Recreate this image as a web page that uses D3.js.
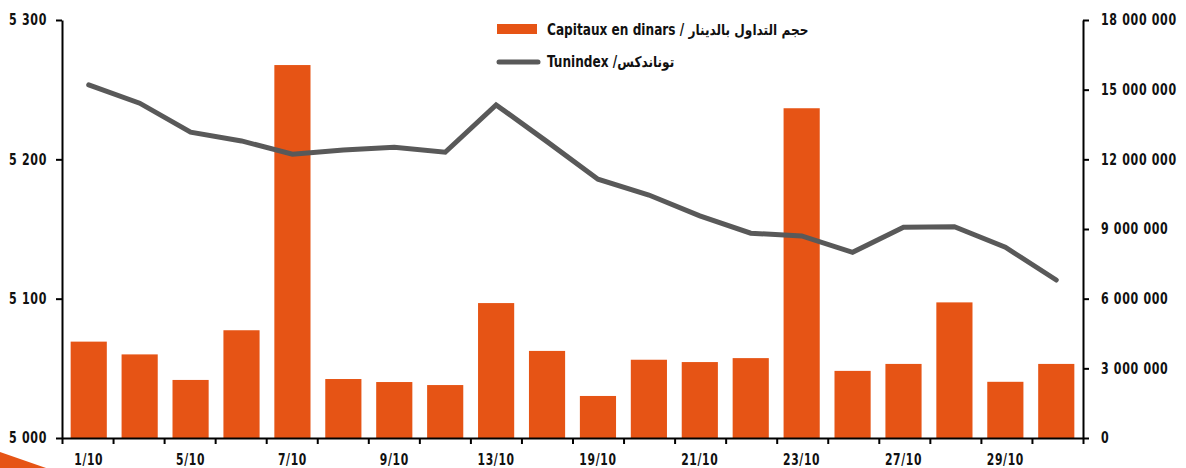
<!doctype html>
<html lang="fr">
  <head>
    <meta charset="utf-8">
    <title>Capitaux et Tunindex - octobre</title>
    <style>
      body {
        margin: 0;
        background: #fff;
      }
      svg text {
        font-family: 'DejaVu Sans Condensed', 'DejaVu Sans', sans-serif;
        font-weight: bold;
        fill: #111;
      }
      .axis path, .axis line {
        stroke: #000;
        stroke-width: 2;
      }
    </style>
  </head>
  <body>
    <div id="chart"></div>

    <script src="https://d3js.org/d3.v7.min.js"></script>
    <script>
      // seances d'octobre
      const days = ['1/10', '2/10', '5/10', '6/10', '7/10', '8/10', '9/10', '12/10', '13/10', '14/10',
                    '19/10', '20/10', '21/10', '22/10', '23/10', '26/10', '27/10', '28/10', '29/10', '30/10']
      // capitaux en dinars (axe droit)
      const capitaux = [4150000, 3600000, 2500000, 4640000, 16060000, 2540000, 2410000, 2280000, 5810000, 3750000,
                        1810000, 3370000, 3270000, 3440000, 14200000, 2890000, 3190000, 5840000, 2420000, 3190000]
      // Tunindex (axe gauche)
      const tunindex = [5253.4, 5240.3, 5219.5, 5213.2, 5203.7, 5206.7, 5208.7, 5205.1, 5239.1, 5212.7,
                        5185.7, 5174.4, 5159.4, 5147.0, 5145.0, 5133.3, 5151.3, 5151.7, 5136.9, 5113.4]
      const leftTicks = [5000, 5100, 5200, 5300]
      const rightTicks = [0, 3000000, 6000000, 9000000, 12000000, 15000000, 18000000]
      const legendLabels = ['Capitaux en dinars / حجم التداول بالدينار', 'Tunindex /توناندكس']

      const width = 1186
      const height = 468
      const m = { left: 62, right: 1083, top: 20, bottom: 438 }
      const orange = '#e65415'
      const grey = '#595959'

      const spaced = d => d3.format(',')(d).replace(/,/g, ' ')

      // no narrow font here, so squeeze the text horizontally
      const squeeze = (sel, k, x) => sel
        .attr('x', x / k)
        .attr('transform', `scale(${k},1)`)
        .attr('font-size', 15)
        .attr('letter-spacing', 0.8)

      const svg = d3.select('#chart')
        .append('svg')
        .attr('width', width)
        .attr('height', height)

      // petit triangle decoratif en bas a gauche
      svg.append('path')
        .attr('d', 'M0,452 L46,468 L0,468 Z')
        .attr('fill', orange)

      const x = d3.scaleBand()
        .domain(days)
        .range([m.left, m.right])
        .paddingInner(0.29)
        .paddingOuter(0.17)

      const xEdges = d3.scaleLinear()
        .domain([0, days.length])
        .range([m.left, m.right])

      const yL = d3.scaleLinear().domain([5000, 5300]).range([m.bottom, m.top])
      const yR = d3.scaleLinear().domain([0, 18000000]).range([m.bottom, m.top])

      svg.append('g').selectAll('rect')
        .data(capitaux)
        .enter()
        .append('rect')
          .attr('x', (d, i) => x(days[i]))
          .attr('width', x.bandwidth())
          .attr('y', d => yR(d))
          .attr('height', d => yR(0) - yR(d))
          .attr('fill', orange)

      const line = d3.line()
        .x((d, i) => x(days[i]) + x.bandwidth() / 2)
        .y(d => yL(d))

      svg.append('path')
        .datum(tunindex)
        .attr('d', line)
        .attr('fill', 'none')
        .attr('stroke', grey)
        .attr('stroke-width', 5)
        .attr('stroke-linecap', 'round')
        .attr('stroke-linejoin', 'miter')

      // axes
      const left = svg.append('g')
        .attr('class', 'axis')
        .attr('transform', `translate(${m.left},0)`)
        .call(d3.axisLeft(yL).tickValues(leftTicks).tickSize(6).tickSizeOuter(0).tickFormat(spaced))
      squeeze(left.selectAll('text'), 0.82, -15)

      const right = svg.append('g')
        .attr('class', 'axis')
        .attr('transform', `translate(${m.right},0)`)
        .call(d3.axisRight(yR).tickValues(rightTicks).tickSize(6).tickSizeOuter(0).tickFormat(spaced))
      squeeze(right.selectAll('text'), 0.82, 18)

      svg.append('g')
        .attr('class', 'axis')
        .attr('transform', `translate(0,${m.bottom})`)
        .call(d3.axisBottom(xEdges).tickValues(d3.range(days.length + 1)).tickSize(6).tickSizeOuter(0).tickFormat(''))

      const bottom = svg.append('g')
        .attr('transform', `translate(0,${m.bottom})`)
        .call(d3.axisBottom(x).tickSize(0).tickFormat((d, i) => i % 2 === 0 ? d : ''))
      bottom.select('.domain').remove()
      squeeze(bottom.selectAll('text'), 0.8, 0).attr('y', 16)

      // legende
      const legend = svg.append('g')
      legend.append('rect')
        .attr('x', 497).attr('y', 24).attr('width', 40).attr('height', 10)
        .attr('fill', orange)
      legend.append('line')
        .attr('x1', 499).attr('x2', 538).attr('y1', 62).attr('y2', 62)
        .attr('stroke', grey).attr('stroke-width', 5).attr('stroke-linecap', 'round')
      legend.append('g')
        .attr('transform', 'translate(547,0) scale(0.9,1)')
        .selectAll('text')
        .data(legendLabels)
        .enter()
        .append('text')
          .attr('x', 0)
          .attr('y', (d, i) => 35 + i * 32)
          .attr('font-size', 15)
          .attr('direction', 'ltr')
          .text(d => d)
    </script>
  </body>
</html>
